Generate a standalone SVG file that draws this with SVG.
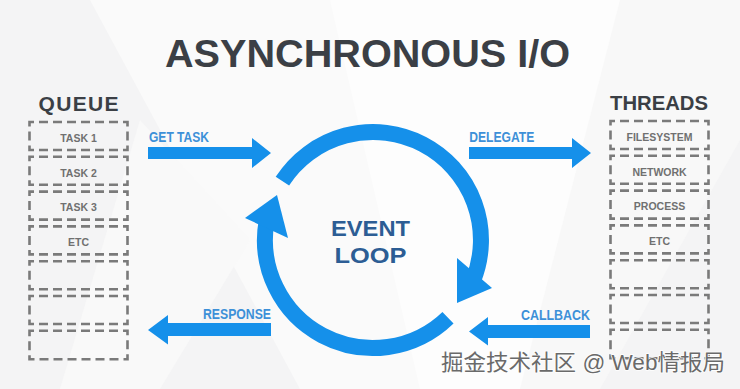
<svg xmlns="http://www.w3.org/2000/svg" width="740" height="389" viewBox="0 0 740 389">
  <defs>
    <style>
      .title { font-family: "Liberation Sans", Arial, sans-serif; font-weight: bold; fill: #3b3f45; }
      .box { fill: none; stroke: #7a7a7a; stroke-width: 2.6; stroke-dasharray: 9 5; stroke-dashoffset: 4.5; }
      .boxtxt { font-family: "Liberation Sans", Arial, sans-serif; font-weight: bold; font-size: 10.5px; fill: #707070; text-anchor: middle; }
      .lbl { font-family: "Liberation Sans", Arial, sans-serif; font-weight: bold; font-size: 14px; fill: #3d90d8; }
      .arrow { fill: #1590ea; }
      .arc { fill: none; stroke: #1590ea; stroke-width: 16; }
      .loop { font-family: "Liberation Sans", Arial, sans-serif; font-weight: bold; font-size: 22px; fill: #2c5d94; text-anchor: middle; }
      .wm { font-family: "Liberation Sans", "Noto Sans CJK SC", sans-serif; font-size: 22px; fill: #6a6a6a; stroke: #ffffff; stroke-width: 1.5; paint-order: stroke; }
    </style>
  </defs>

  <!-- background -->
  <g id="background">
    <rect x="0" y="0" width="740" height="389" fill="#f4f4f5"/>
    <polygon points="90,0 330,0 560,389 300,389" fill="#fafafa"/>
    <polygon points="330,0 700,0 560,389 420,389" fill="#fdfdfd"/>
    <polygon points="140,120 250,240 160,389 60,389" fill="#f9f9f9"/>
    <polygon points="620,0 740,0 740,140 600,389 520,389" fill="#f8f8f8"/>
  </g>

  <g id="title">
    <text class="title" x="165" y="66.5" font-size="38" textLength="405" lengthAdjust="spacingAndGlyphs">ASYNCHRONOUS I/O</text>
  </g>

  <g id="queue">
    <text class="title" x="38.5" y="111" font-size="21" textLength="80" lengthAdjust="spacing">QUEUE</text>
    <rect class="box" x="29.5" y="122" width="98" height="28"/>
    <rect class="box" x="29.5" y="156.8" width="98" height="28"/>
    <rect class="box" x="29.5" y="191.6" width="98" height="28"/>
    <rect class="box" x="29.5" y="226.4" width="98" height="28"/>
    <rect class="box" x="29.5" y="261.2" width="98" height="28"/>
    <rect class="box" x="29.5" y="296" width="98" height="28"/>
    <rect class="box" x="29.5" y="330.8" width="98" height="28.5"/>
    <text class="boxtxt" x="78.5" y="141.8">TASK 1</text>
    <text class="boxtxt" x="78.5" y="176.6">TASK 2</text>
    <text class="boxtxt" x="78.5" y="211.4">TASK 3</text>
    <text class="boxtxt" x="78.5" y="246.2">ETC</text>
  </g>

  <g id="threads">
    <text class="title" x="610" y="110" font-size="21" textLength="98" lengthAdjust="spacingAndGlyphs">THREADS</text>
    <rect class="box" x="610.5" y="121" width="98" height="28"/>
    <rect class="box" x="610.5" y="155.8" width="98" height="28"/>
    <rect class="box" x="610.5" y="190.6" width="98" height="28"/>
    <rect class="box" x="610.5" y="225.4" width="98" height="28"/>
    <rect class="box" x="610.5" y="260.2" width="98" height="28"/>
    <rect class="box" x="610.5" y="295" width="98" height="28"/>
    <rect class="box" x="610.5" y="329.8" width="98" height="28.5"/>
    <text class="boxtxt" x="659.5" y="140.8">FILESYSTEM</text>
    <text class="boxtxt" x="659.5" y="175.6">NETWORK</text>
    <text class="boxtxt" x="659.5" y="210.4">PROCESS</text>
    <text class="boxtxt" x="659.5" y="245.2">ETC</text>
  </g>

  <g id="event-loop">
    <path class="arc" d="M 282.4 181.2 A 108 108 0 0 1 473.1 280.5"/>
    <polygon class="arrow" points="457,258 492,288 457,303"/>
    <path class="arc" d="M 448 317.7 A 108 108 0 0 1 266.6 221.2"/>
    <polygon class="arrow" points="245,218 277,195 288,238"/>
    <text class="loop" x="370.5" y="236" textLength="79" lengthAdjust="spacingAndGlyphs">EVENT</text>
    <text class="loop" x="370.5" y="262.5" textLength="72" lengthAdjust="spacingAndGlyphs">LOOP</text>
  </g>

  <g id="connectors">
    <g id="get-task">
      <text class="lbl" x="149" y="142.3" textLength="60" lengthAdjust="spacingAndGlyphs">GET TASK</text>
      <polygon class="arrow" points="148,147 252,147 252,138 271,153 252,168 252,159 148,159"/>
    </g>
    <g id="response">
      <text class="lbl" x="203" y="319.3" textLength="68" lengthAdjust="spacingAndGlyphs">RESPONSE</text>
      <polygon class="arrow" points="271,323 168,323 168,315 148,330 168,344.5 168,336 271,336"/>
    </g>
    <g id="delegate">
      <text class="lbl" x="469.3" y="142" textLength="65" lengthAdjust="spacingAndGlyphs">DELEGATE</text>
      <polygon class="arrow" points="469,147 572,147 572,138 591,153 572,168 572,159 469,159"/>
    </g>
    <g id="callback">
      <text class="lbl" x="521" y="320" textLength="69" lengthAdjust="spacingAndGlyphs">CALLBACK</text>
      <polygon class="arrow" points="590,325 488,325 488,317 469,331.5 488,345.5 488,338 590,338"/>
    </g>
  </g>

  <g id="watermark">
    <text class="wm" x="441" y="369.5" textLength="284" lengthAdjust="spacingAndGlyphs">掘金技术社区 @ Web情报局</text>
  </g>
</svg>
